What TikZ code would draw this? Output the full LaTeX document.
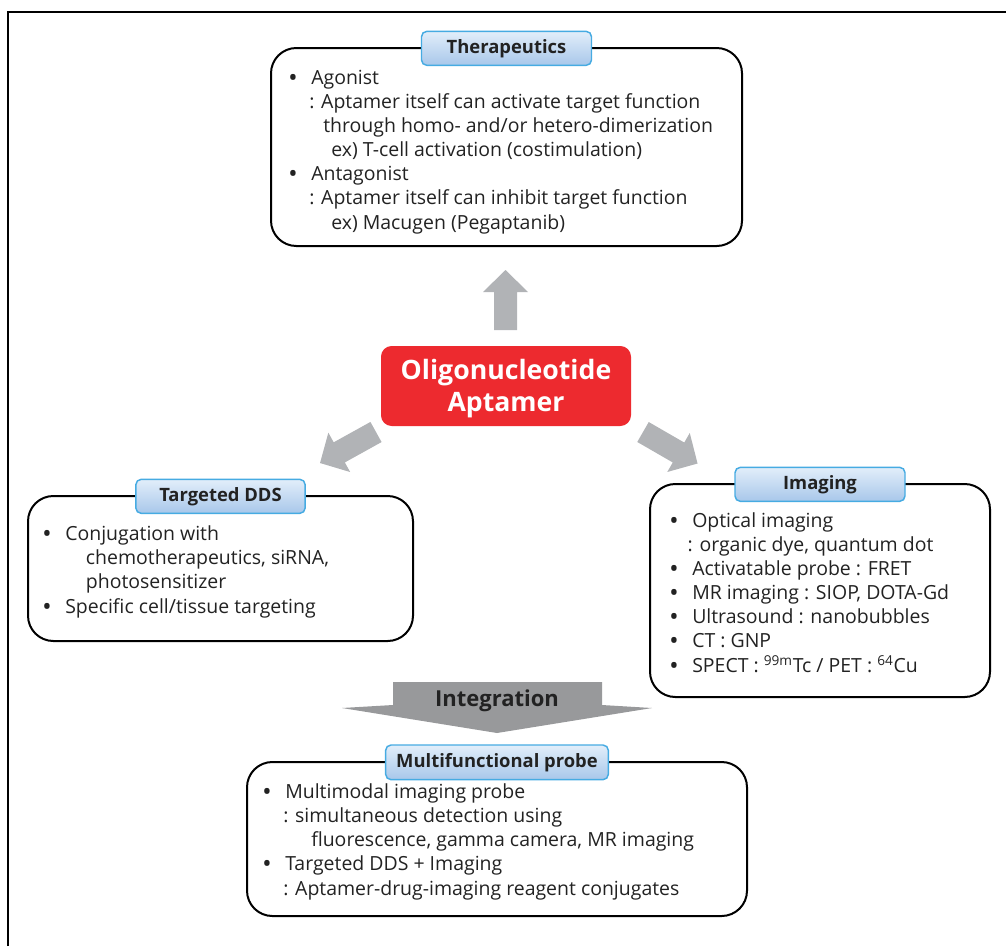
\documentclass[tikz,border=0pt]{standalone}
\usepackage{fontspec}
\setmainfont{Open Sans}
\usetikzlibrary{positioning, fit}
\definecolor{aptred}{HTML}{ED2A2F}
\definecolor{arrowgray}{HTML}{B1B3B6}
\definecolor{intgray}{HTML}{98999B}
\definecolor{tagline}{HTML}{46ABE2}
\definecolor{tagtop}{HTML}{E2EEFA}
\definecolor{tagbot}{HTML}{A8C7EA}
\definecolor{ink}{HTML}{222222}
\tikzset{
x=0.75pt, y=-0.75pt, % one unit = one pixel of the reference, y downwards
panel/.style={draw=black, line width=1.5pt, rounded corners=19pt, inner sep=0pt},
tag/.style={draw=tagline, line width=1.1pt, rounded corners=4pt, top color=tagtop, bottom color=tagbot,
  font=\bfseries\fontsize{13.8}{16}\selectfont, text=ink, inner sep=0pt, minimum height=25.5pt},
body/.style={align=left, inner sep=0pt, anchor=base west, font=\fontsize{14.6}{18.1}\selectfont, text=ink},
}
\newcommand{\itm}{\makebox[16.5pt][l]{\textbf{\textbullet}}}
% block arrow: #1 tail, #2 direction, #3 length
\newcommand{\fatarrow}[3]{\fill[arrowgray, shift={#1}, rotate=#2]
  (0,-11.5) -- (#3-22,-11.5) -- (#3-22,-22.5) -- (#3,0) -- (#3-22,22.5) -- (#3-22,11.5) -- (0,11.5) -- cycle;}
\begin{document}
\begin{tikzpicture}
\useasboundingbox (0,0) rectangle (1006,946);
\draw[line width=1.5pt] (8,946) -- (8,12) -- (1006,12);

% centre
\node[fill=aptred, rounded corners=8pt, fit={(381,346) (631,426)}, inner sep=0pt] (apt) {};
\node[text=white, align=center, font=\bfseries\fontsize{20}{23.5}\selectfont] (apttext) at ([yshift=-2pt]apt.center) {Oligonucleotide\\Aptamer};

% arrows
\fatarrow{(505.5,330)}{90}{60}
\fatarrow{(376,432)}{209}{64}
\fatarrow{(643,432)}{-30}{63}
\fill[intgray] (393,682) -- (602,682) -- (602,705) -- (652,708) -- (497,733) -- (342,708) -- (393,705) -- cycle;
\node[font=\bfseries\fontsize{16.5}{19}\selectfont, text=ink] (integ) at (497,701) {Integration};

% panels
\node[panel, fit={(271,48) (742,246)}] (ther) {};
\node[panel, fit={(28,496) (413,641)}] (dds) {};
\node[panel, fit={(650,484) (990,697)}] (img) {};
\node[panel, fit={(247,762) (747,916)}] (multi) {};

\node[tag, minimum width=127.5pt] (thertag) at ([yshift=-1pt]ther.north) {Therapeutics};
\node[tag, minimum width=127pt] (ddstag) at ([yshift=-1pt]dds.north) {Targeted DDS};
\node[tag, minimum width=127.5pt] (imgtag) at ([yshift=-1pt]img.north) {Imaging};
\node[tag, minimum width=167pt, minimum height=26pt] (multitag) at ([yshift=-1pt]multi.north) {Multifunctional probe};

% texts, placed at the baseline of their last line
\node[body] (thertext) at (289,229) {\itm Agonist\\
\hspace*{15pt}: Aptamer itself can activate target function\\
\hspace*{25.5pt}through homo- and/or hetero-dimerization\\
\hspace*{31.5pt}ex) T-cell activation (costimulation)\\
\itm Antagonist\\
\hspace*{15pt}: Aptamer itself can inhibit target function\\
\hspace*{31.5pt}ex) Macugen (Pegaptanib)};

\node[body] (ddstext) at (43,613) {\itm Conjugation with\\
\hspace*{32pt}chemotherapeutics, siRNA,\\
\hspace*{32pt}photosensitizer\\
\itm Specific cell/tissue targeting};

\node[body] (imgtext) at (670,672) {\itm Optical imaging\\
\hspace*{13pt}: organic dye, quantum dot\\
\itm Activatable probe : FRET\\
\itm MR imaging : SIOP, DOTA-Gd\\
\itm Ultrasound : nanobubbles\\
\itm CT : GNP\\
\itm SPECT : \textsuperscript{99m}Tc / PET : \textsuperscript{64}Cu};

\node[body] (multitext) at (263,895) {\itm Multimodal imaging probe\\
\hspace*{15pt}: simultaneous detection using\\
\hspace*{36pt}fluorescence, gamma camera, MR imaging\\
\itm Targeted DDS + Imaging\\
\hspace*{15pt}: Aptamer-drug-imaging reagent conjugates};
\end{tikzpicture}
\end{document}
